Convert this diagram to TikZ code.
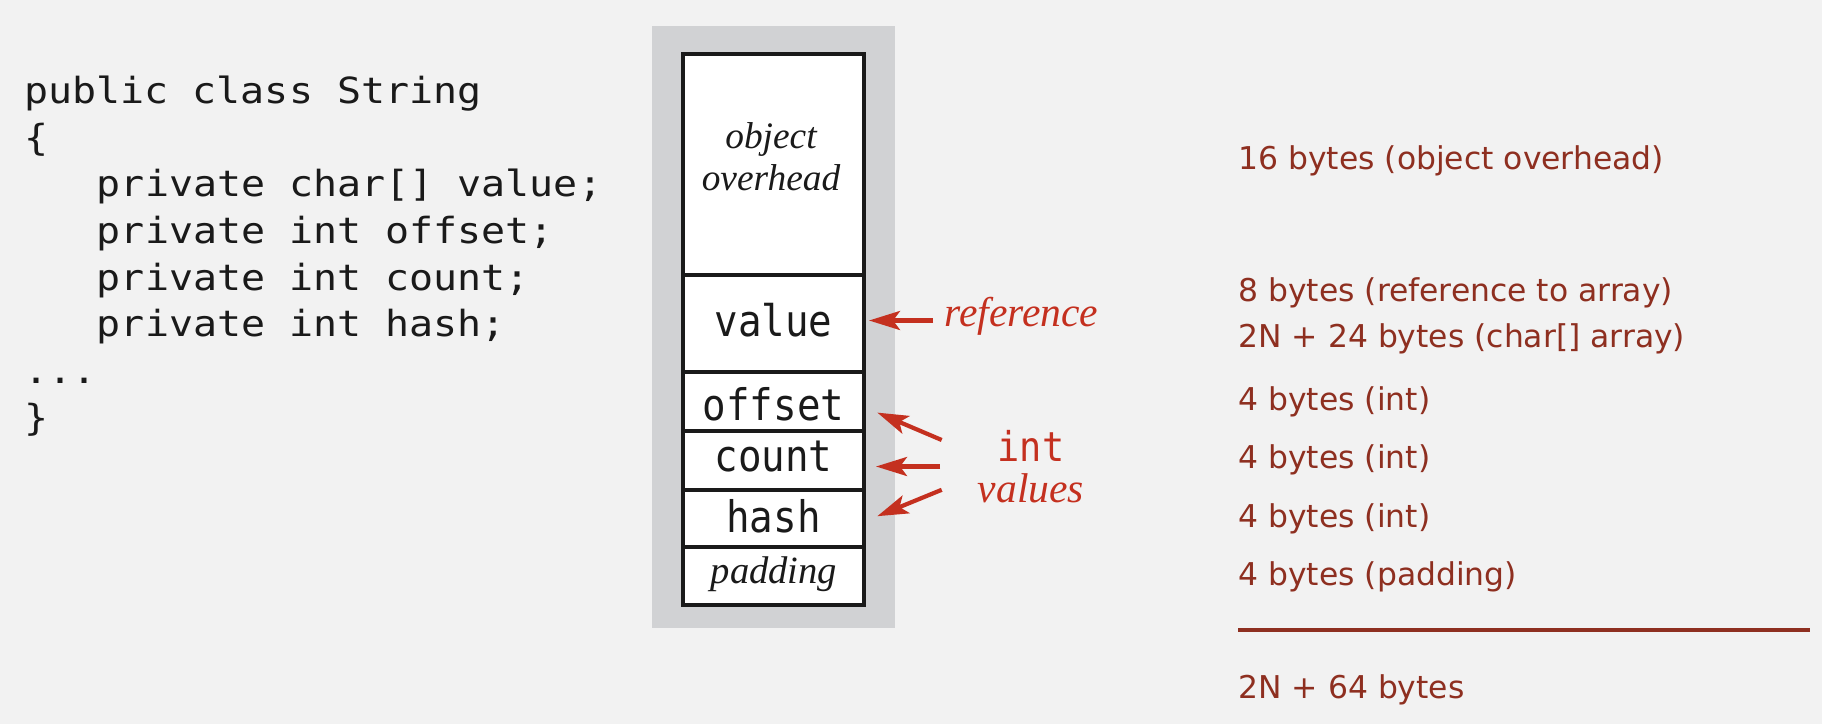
\documentclass[tikz,border=0pt]{standalone}
\usepackage{fontspec}
\usetikzlibrary{arrows.meta}
\newfontfamily\codefont[FakeStretch=1.11]{DejaVu Sans Mono}
\newfontfamily\boxfont[FakeStretch=0.9]{DejaVu Sans Mono}
\newfontfamily\notefont{DejaVu Sans}
\newfontfamily\itfont{Liberation Serif}
\definecolor{bgcol}{HTML}{F2F2F2}
\definecolor{panelcol}{HTML}{D1D2D4}
\definecolor{notered}{HTML}{8E2F20}
\definecolor{arrowred}{HTML}{C4301F}
\definecolor{inkcol}{HTML}{1A1A1A}
\begin{document}
\begin{tikzpicture}[x=0.5pt,y=-0.5pt,
  codeline/.style={anchor=base west, inner sep=0pt, text=inkcol, font=\codefont\fontsize{18}{20}\selectfont},
  boxlabel/.style={anchor=base, inner sep=0pt, text=inkcol, font=\boxfont\fontsize{21.75}{24}\selectfont},
  itlabel/.style={anchor=base, inner sep=0pt, text=inkcol, font=\itfont\itshape\fontsize{18.7}{20}\selectfont},
  notetext/.style={anchor=base west, inner sep=0pt, text=notered, font=\notefont\fontsize{15.7}{18}\selectfont},
  redit/.style={inner sep=0pt, text=arrowred, font=\itfont\itshape\fontsize{20.8}{22}\selectfont},
  redmono/.style={anchor=base, inner sep=0pt, text=arrowred, font=\boxfont\fontsize{20.5}{22}\selectfont},
  cellline/.style={draw=inkcol, line width=2pt},
  redarrow/.style={draw=arrowred, line width=2.1pt, -{Stealth[length=15.5pt, width=9.5pt, inset=3.5pt]}}
]
\fill[bgcol] (0,0) rectangle (1822,724);
\useasboundingbox (0,0) rectangle (1822,724);

% code
\node[codeline] (c1) at (24,103.3) {public class String};
\node[codeline] (c2) at (24,150) {\{};
\node[codeline] (c3) at (96.5,196.7) {private char[] value;};
\node[codeline] (c4) at (96.5,243.3) {private int offset;};
\node[codeline] (c5) at (96.5,290) {private int count;};
\node[codeline] (c6) at (96.5,336.7) {private int hash;};
\node[codeline] (c7) at (24,383.3) {...};
\node[codeline] (c8) at (24,430) {\}};

% panel and object box
\fill[panelcol] (652,26) rectangle (895,628);
\fill[white] (683,54) rectangle (864,605);
\draw[cellline] (683,275) -- (864,275);
\draw[cellline] (683,372) -- (864,372);
\draw[cellline] (683,431) -- (864,431);
\draw[cellline] (683,490) -- (864,490);
\draw[cellline] (683,547) -- (864,547);
\draw[cellline] (683,54) rectangle (864,605);

\node[itlabel] (obj1) at (771,148.5) {object};
\node[itlabel] (obj2) at (771,190) {overhead};
\node[boxlabel] (vvalue) at (773.5,336.3) {value};
\node[boxlabel] (voffset) at (773.5,420) {offset};
\node[boxlabel] (vcount) at (773.5,471.6) {count};
\node[boxlabel] (vhash) at (773.5,532) {hash};
\node[itlabel, font=\itfont\itshape\fontsize{19.3}{20}\selectfont] (vpad) at (774,583.5) {padding};

% annotations
\node[redit, anchor=base west] (ref) at (944,326.5) {reference};
\node[redmono] (intl) at (1031,461) {int};
\node[redit, anchor=base] (vals) at (1031,502) {values};

\coordinate (reftail) at (933,320.5);
\coordinate (reftip) at (869,320.5);
\coordinate (offtail) at (941.7,440);
\coordinate (offtip) at (877.3,412.6);
\coordinate (cnttail) at (940,466.5);
\coordinate (cnttip) at (876,466.5);
\coordinate (hshtail) at (941.7,489.8);
\coordinate (hshtip) at (877.3,516.2);
\draw[redarrow] (reftail) -- (reftip);
\draw[redarrow] (offtail) -- (offtip);
\draw[redarrow] (cnttail) -- (cnttip);
\draw[redarrow] (hshtail) -- (hshtip);

% byte counts
\node[notetext] (n1) at (1238,169.8) {16 bytes (object overhead)};
\node[notetext] (n2) at (1238,301.8) {8 bytes (reference to array)};
\node[notetext] (n3) at (1238,347.7) {2N + 24 bytes (char[] array)};
\node[notetext] (n4) at (1238,410.8) {4 bytes (int)};
\node[notetext] (n5) at (1238,468) {4 bytes (int)};
\node[notetext] (n6) at (1238,527.6) {4 bytes (int)};
\node[notetext] (n7) at (1238,585) {4 bytes (padding)};
\coordinate (rulel) at (1238,630);
\coordinate (ruler) at (1810,630);
\draw[draw=notered, line width=2.25pt] (rulel) -- (ruler);
\node[notetext] (n8) at (1238,698) {2N + 64 bytes};
\end{tikzpicture}
\end{document}
